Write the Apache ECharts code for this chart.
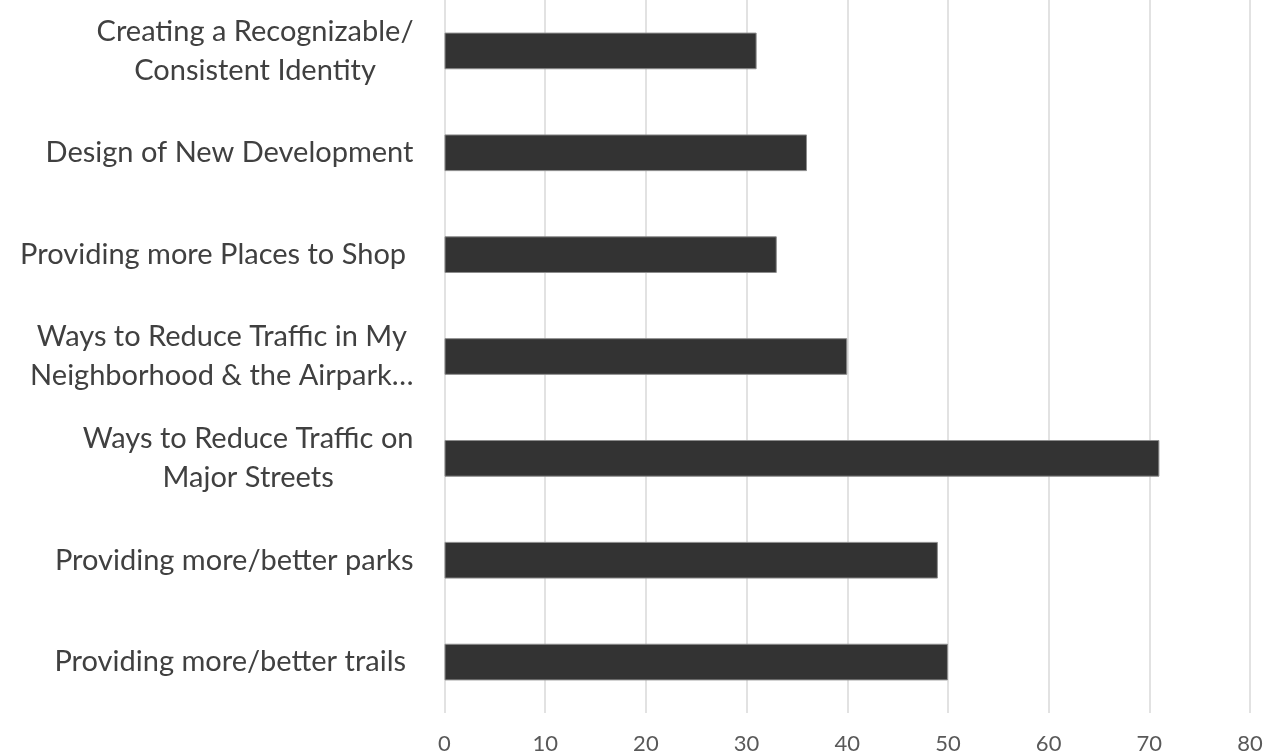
<!DOCTYPE html>
<html>
<head>
<meta charset="utf-8">
<script src="https://cdn.jsdelivr.net/npm/echarts@6/dist/echarts.min.js"></script>
<style>
html,body{margin:0;padding:0;background:#fff;}
#chart{width:1266px;height:755px;}
</style>
</head>
<body>
<div id="chart"></div>
<script>
const categories = [
  "Creating a Recognizable/\nConsistent Identity",
  "Design of New Development",
  "Providing more Places to Shop ",
  "Ways to Reduce Traffic in My\nNeighborhood & the Airpark…",
  "Ways to Reduce Traffic on\nMajor Streets",
  "Providing more/better parks",
  "Providing more/better trails "
];
const values = [31, 36, 33, 40, 71, 49, 50];
const xTicks = [0, 10, 20, 30, 40, 50, 60, 70, 80];

const chart = echarts.init(document.getElementById('chart'), null, {renderer: 'canvas'});
const FONT = 'Lato, "Open Sans", sans-serif';
chart.setOption({
  animation: false,
  backgroundColor: '#ffffff',
  grid: {left: 444.5, right: 16, top: 0, bottom: 42, containLabel: false},
  xAxis: {
    type: 'value',
    min: xTicks[0],
    max: xTicks[xTicks.length - 1],
    interval: xTicks[1] - xTicks[0],
    axisLine: {show: false},
    axisTick: {show: false},
    splitLine: {show: true, lineStyle: {color: '#d9d9d9', width: 1.5}},
    axisLabel: {
      color: '#595959',
      fontFamily: FONT,
      fontSize: 22,
      margin: 20
    }
  },
  yAxis: {
    type: 'category',
    data: categories,
    inverse: true,
    axisLine: {show: false},
    axisTick: {show: false},
    splitLine: {show: false},
    axisLabel: {
      margin: 31,
      color: '#404040',
      fontFamily: FONT,
      fontSize: 29,
      lineHeight: 39,
      formatter: function (v) {
        return v.split('\n').map(function (l) { return '{c|' + l + '}'; }).join('\n');
      },
      rich: {
        c: {align: 'center', color: '#404040', fontFamily: FONT, fontSize: 29, lineHeight: 39}
      }
    }
  },
  series: [{
    type: 'bar',
    data: values,
    barCategoryGap: '64%',
    itemStyle: {color: '#333333', borderColor: '#8c8c8c', borderWidth: 1}
  }]
});
</script>
</body>
</html>
